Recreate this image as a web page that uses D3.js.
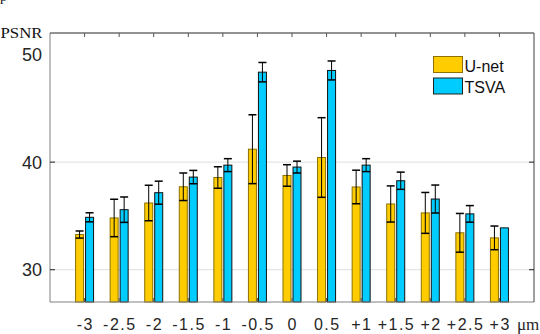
<html>
<script src="https://d3js.org/d3.v7.min.js"></script>
<body style="margin:0;background:#fff">
<svg id="chart" width="540" height="334"></svg>
<script>
    // x categories (defocus, in um)
    const categories = ["-3","-2.5","-2","-1.5","-1","-0.5","0","0.5","+1","+1.5","+2","+2.5","+3"];
    // mean PSNR and error
    const unetMean = [33.27, 34.81, 36.2, 37.71, 38.57, 41.2, 38.76, 40.43, 37.69, 36.11, 35.28, 33.43, 32.96];
    const unetErr  = [0.33, 1.74, 1.65, 1.28, 1.0, 3.2, 1.0, 3.7, 1.56, 1.68, 1.9, 1.8, 1.1];
    const tsvaMean = [34.87, 35.58, 37.16, 38.61, 39.72, 48.36, 39.54, 48.52, 39.72, 38.27, 36.57, 35.19, 33.89];
    const tsvaErr  = [0.42, 1.18, 1.07, 0.62, 0.6, 0.9, 0.55, 0.88, 0.6, 0.8, 1.3, 0.77, 0];
    const yTicks = [30, 40, 50];
    const seriesNames = ["U-net", "TSVA"];

    const mLeft = 50, mRight = 534, mTop = 33, mBottom = 302;
    const svg = d3.select("#chart");

    let x = d3.scalePoint().domain(categories).range([mLeft, mRight]).padding(1);
    let y = d3.scaleLinear().domain([27, 52]).range([mBottom, mTop]);

    // light grid lines (only 30 and 40 have them)
    svg.selectAll(".grid").data(yTicks.filter(v => v < 50)).enter().append("line")
        .attr("x1", mLeft).attr("x2", mRight)
        .attr("y1", d => y(d)).attr("y2", d => y(d))
        .attr("stroke", "#dedede").attr("stroke-width", 1);

    const series = [
        {name: seriesNames[0], mean: unetMean, err: unetErr, fill: "#ffcc00", stroke: "#8c7200", off: -9},
        {name: seriesNames[1], mean: tsvaMean, err: tsvaErr, fill: "#00ccff", stroke: "#111", off: 1}
    ];
    const bw = 8;

    series.forEach(s => {
        let g = svg.append("g");
        g.selectAll("rect").data(categories).enter().append("rect")
            .attr("x", (d) => x(d) + s.off)
            .attr("y", (d, i) => y(s.mean[i]))
            .attr("width", bw)
            .attr("height", (d, i) => mBottom - y(s.mean[i]))
            .attr("fill", s.fill)
            .attr("stroke", s.stroke)
            .attr("stroke-width", 1);

        // error bars
        let e = g.selectAll(".eb").data(categories.filter((d, i) => s.err[i] > 0)).enter().append("g");
        const cx = d => x(d) + s.off + bw / 2;
        const m = d => s.mean[categories.indexOf(d)];
        const er = d => s.err[categories.indexOf(d)];
        e.append("line")
            .attr("x1", cx).attr("x2", cx)
            .attr("y1", d => y(m(d) + er(d)))
            .attr("y2", d => y(m(d) - er(d)))
            .attr("stroke", "#000").attr("stroke-width", 1);
        [1, -1].forEach(sign => {
            e.append("line")
                .attr("x1", d => cx(d) - 4).attr("x2", d => cx(d) + 4)
                .attr("y1", d => y(m(d) + sign * er(d)))
                .attr("y2", d => y(m(d) + sign * er(d)))
                .attr("stroke", "#000").attr("stroke-width", 1.5);
        });
    });

    // frame: gray left/bottom, dark top/right
    svg.append("line").attr("x1", mLeft).attr("x2", mLeft).attr("y1", mTop).attr("y2", mBottom)
        .attr("stroke", "#808080");
    svg.append("line").attr("x1", mLeft).attr("x2", mRight).attr("y1", mBottom).attr("y2", mBottom)
        .attr("stroke", "#808080");
    svg.append("line").attr("x1", mLeft).attr("x2", mRight).attr("y1", mTop).attr("y2", mTop)
        .attr("stroke", "#262626");
    svg.append("line").attr("x1", mRight).attr("x2", mRight).attr("y1", mTop).attr("y2", mBottom)
        .attr("stroke", "#404040");

    // top ticks
    svg.selectAll(".tt").data(categories).enter().append("line")
        .attr("x1", d => x(d)).attr("x2", d => x(d))
        .attr("y1", mTop).attr("y2", mTop + 4)
        .attr("stroke", "#555");
    // bottom ticks
    svg.selectAll(".bt").data(categories).enter().append("line")
        .attr("x1", d => x(d)).attr("x2", d => x(d))
        .attr("y1", mBottom).attr("y2", mBottom - 4)
        .attr("stroke", "#555");
    // left / right ticks (not at 50)
    yTicks.filter(v => v < 50).forEach(v => {
        svg.append("line").attr("x1", mLeft).attr("x2", mLeft + 5).attr("y1", y(v)).attr("y2", y(v)).attr("stroke", "#222");
        svg.append("line").attr("x1", mRight - 5).attr("x2", mRight).attr("y1", y(v)).attr("y2", y(v)).attr("stroke", "#222");
    });

    // y labels
    svg.selectAll(".yl").data(yTicks).enter().append("text")
        .attr("x", 42).attr("y", d => y(d))
        .attr("dy", "0.36em")
        .attr("text-anchor", "end")
        .attr("font-family", "Liberation Sans, Arial, sans-serif")
        .attr("font-size", 18).attr("fill", "#262626")
        .text(d => d);

    // x labels (slightly stretched in the original)
    svg.selectAll(".xl").data(categories).enter().append("text")
        .attr("x", d => x(d) + 0.75).attr("y", 329.5)
        .attr("text-anchor", "middle")
        .attr("font-family", "Liberation Sans, Arial, sans-serif")
        .attr("font-size", 16).attr("fill", "#262626")
        .attr("letter-spacing", 1.5)
        .text(d => d);

    svg.append("text").text("μm")
        .attr("x", 517).attr("y", 329.5)
        .attr("font-family", "Liberation Serif, Times New Roman, serif")
        .attr("font-size", 17).attr("fill", "#262626");

    svg.append("text").text("PSNR")
        .attr("x", 0.5).attr("y", 37.5)
        .attr("textLength", 42).attr("lengthAdjust", "spacingAndGlyphs")
        .attr("font-family", "Liberation Serif, Times New Roman, serif")
        .attr("font-size", 14).attr("fill", "#111");

    // cut-off glyph at the top-left corner
    svg.append("text").text("p")
        .attr("x", 0).attr("y", 1)
        .attr("font-family", "Liberation Serif, serif")
        .attr("font-size", 14).attr("fill", "#111");

    // legend
    let legend = svg.append("g");
    series.forEach((s, i) => {
        legend.append("rect")
            .attr("x", 433.5).attr("y", 56.5 + i * 21.5)
            .attr("width", 29).attr("height", 16)
            .attr("fill", s.fill).attr("stroke", i === 0 ? "#8c7200" : "#222");
        legend.append("text")
            .attr("x", 464.5).attr("y", 71.5 + i * 21.5)
            .attr("font-family", "Liberation Sans, Arial, sans-serif")
            .attr("font-size", 16).attr("fill", "#111")
            .text(s.name);
    });
</script>
</body>
</html>
